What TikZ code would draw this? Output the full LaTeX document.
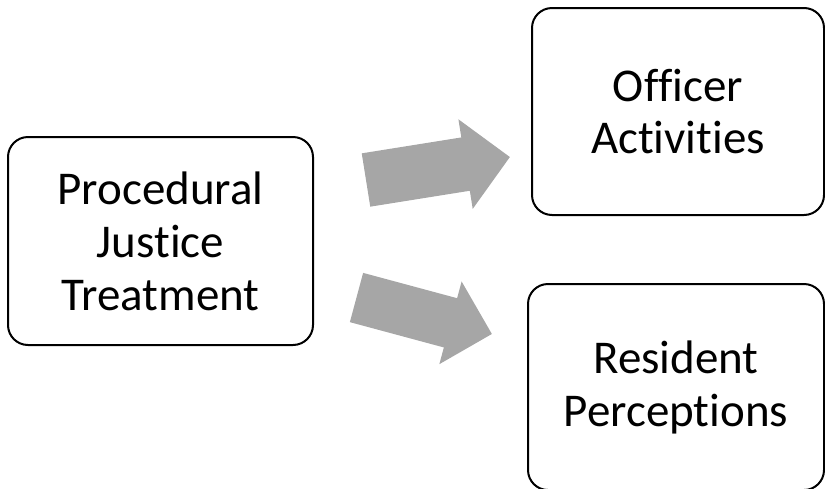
\documentclass[tikz,border=0pt]{standalone}
\usepackage{fontspec}
\setmainfont{Carlito}[RawFeature={-liga;-clig;-calt;-dlig}]
\usetikzlibrary{arrows.meta}
\definecolor{boxline}{HTML}{000000}
\definecolor{arrowgray}{HTML}{A6A6A6}
\newcommand{\brk}{\kern0pt}
\tikzset{
  stage/.style={draw=boxline, line width=2pt, rounded corners=20pt, align=center,
    inner sep=0pt, font=\fontsize{47}{53}\selectfont},
  upshaft/.style={draw=arrowgray, line width=54pt, -{Triangle[width=88pt, length=45pt]}},
  downshaft/.style={draw=arrowgray, line width=51pt, -{Triangle[width=83pt, length=43pt]}}
}

\begin{document}
\begin{tikzpicture}[x=1pt, y=-1pt]
  \useasboundingbox (0,0) rectangle (825,488);

  \node[stage, minimum width=305pt, minimum height=208pt] (pj) at (160.5,241) {Procedural\\Justice\\Treatment};
  \node[stage, minimum width=292pt, minimum height=207pt] (oa) at (678,111.5) {Of\brk f\brk icer\\Act\brk ivit\brk ies};
  \node[stage, minimum width=296pt, minimum height=206pt] (rp) at (676,387) {Resident\\Percept\brk ions};

  \coordinate (upfrom) at (366,180);
  \coordinate (upto) at (510,157);
  \coordinate (downfrom) at (356.5,297.5);
  \coordinate (downto) at (492,334);

  \draw[upshaft] (upfrom) -- (upto);
  \draw[downshaft] (downfrom) -- (downto);
\end{tikzpicture}
\end{document}
